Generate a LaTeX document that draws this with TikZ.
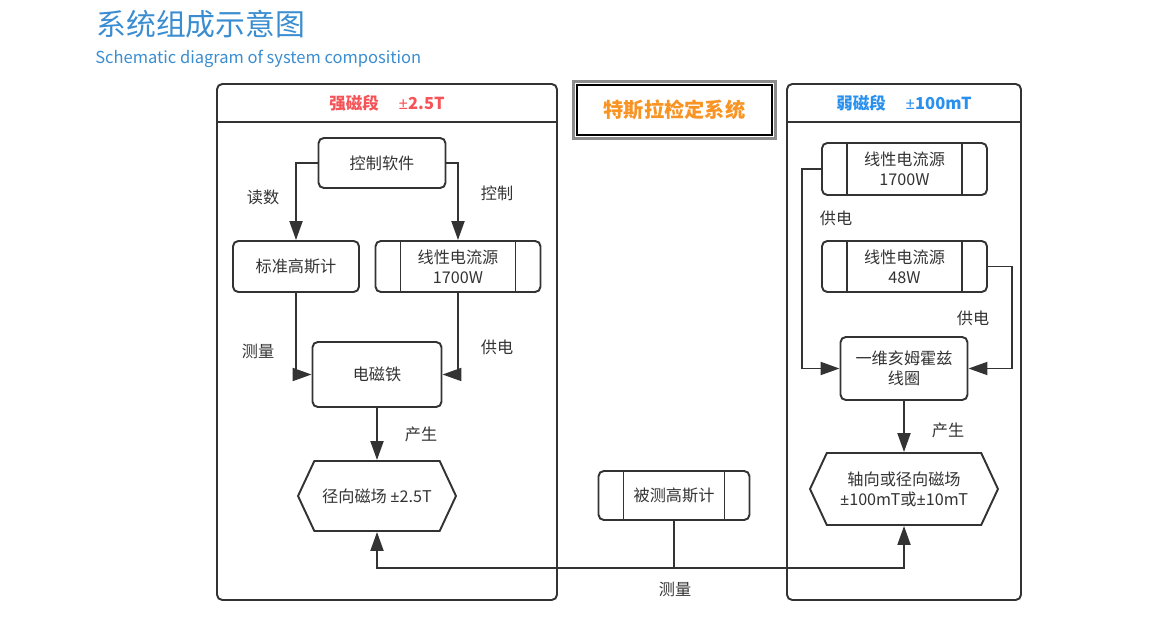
\documentclass[tikz,border=0pt]{standalone}
\usepackage{fontspec}
\setmainfont{Noto Sans CJK SC}
\newfontfamily\latinfont{Noto Sans}
\newcommand{\pmsign}{{\latinfont ±}}
\usetikzlibrary{arrows.meta, positioning, shapes.symbols, fit}
\definecolor{inkgray}{RGB}{51,51,51}
\definecolor{titleblue}{RGB}{58,141,208}
\definecolor{strongred}{RGB}{245,83,88}
\definecolor{weakblue}{RGB}{41,144,238}
\definecolor{sysorange}{RGB}{247,148,36}
\definecolor{framegray}{RGB}{140,140,140}

\begin{document}
\begin{tikzpicture}[
        x=0.02cm, y=-0.02cm,
        every node/.style={font=\fontsize{9.2pt}{11.4pt}\selectfont, text=inkgray},
        box/.style={rectangle, draw=inkgray, line width=1.1pt, rounded corners=3pt, align=center, inner sep=0pt},
        procbox/.style={box, path picture={
            \draw[inkgray, line width=1.1pt] ([xshift=0.5cm]path picture bounding box.north west) -- ([xshift=0.5cm]path picture bounding box.south west);
            \draw[inkgray, line width=1.1pt] ([xshift=-0.5cm]path picture bounding box.north east) -- ([xshift=-0.5cm]path picture bounding box.south east);}},
        fieldbox/.style={signal, signal to=west and east, signal pointer angle=130, draw=inkgray, line width=1.1pt, align=center, inner sep=0pt},
        panel/.style={draw=inkgray, line width=1.1pt, rounded corners=3pt},
        headtext/.style={font=\fontsize{9.4pt}{11pt}\selectfont\bfseries},
        arrow/.style={draw=inkgray, line width=1.1pt, -{Triangle[length=3.8mm, width=2.6mm]}},
        wire/.style={draw=inkgray, line width=1.1pt}
    ]
        \useasboundingbox (0,0) rectangle (1160,621);

        % title
        \node [anchor=west, inner sep=0pt, font=\fontsize{17pt}{20pt}\selectfont, text=titleblue] (title) at (96,24) {系统组成示意图};
        \node [anchor=west, inner sep=0pt, font=\fontsize{9.4pt}{12pt}\selectfont, text=titleblue] (subtitle) at (95,59) {Schematic diagram of system composition};

        % panels
        \draw [panel] (217,84) rectangle (557,600);
        \draw [panel] (217,122) -- (557,122);
        \draw [panel] (787,84) rectangle (1021,600);
        \draw [panel] (787,122) -- (1021,122);
        \node [headtext, text=strongred] (stronghead) at (387,103) {强磁段\hspace{1.2em}\pmsign2.5T};
        \node [headtext, text=weakblue]  (weakhead)   at (904,103) {弱磁段\hspace{1.2em}\pmsign100mT};

        % system name
        \node [rectangle, draw=black, line width=1pt, minimum width=3.9cm, minimum height=1cm,
               font=\fontsize{11.5pt}{13pt}\selectfont\bfseries, text=sysorange] (system) at (674.5,110) {特斯拉检定系统};
        \node [fit=(system), inner sep=1.5pt, draw=framegray, line width=1.6pt] (sysframe) {};

        % strong field
        \node [box, minimum width=2.54cm, minimum height=1cm]    (soft)     at (382,163)   {控制软件};
        \node [box, minimum width=2.52cm, minimum height=1.02cm] (stdgauss) at (296,266.5) {标准高斯计};
        \node [procbox, minimum width=3.3cm, minimum height=1.02cm] (psu)   at (458,266.5) {线性电流源\\1700W};
        \node [box, minimum width=2.58cm, minimum height=1.3cm]  (magnet)   at (377,374.5) {电磁铁};
        \node [fieldbox, minimum width=3.16cm, minimum height=1.4cm] (radial) at (377,496) {径向磁场 \pmsign2.5T};

        % weak field
        \node [procbox, minimum width=3.3cm, minimum height=1.04cm] (wpsu1) at (904.5,169)   {线性电流源\\1700W};
        \node [procbox, minimum width=3.3cm, minimum height=1.02cm] (wpsu2) at (904.5,266.5) {线性电流源\\48W};
        \node [box, minimum width=2.54cm, minimum height=1.26cm]   (coil)  at (904,368.5)   {一维亥姆霍兹\\线圈};
        \node [fieldbox, minimum width=3.76cm, minimum height=1.44cm] (axial) at (904,489) {轴向或径向磁场\\\pmsign100mT或\pmsign10mT};

        % device under test
        \node [procbox, minimum width=3.02cm, minimum height=0.98cm] (dut) at (674,495.5) {被测高斯计};

        % connectors
        \draw [arrow] (soft.west) -| (stdgauss);
        \draw [arrow] (soft.east) -| (psu);
        \draw [arrow] (stdgauss) |- (magnet);
        \draw [arrow] (psu) |- (magnet);
        \draw [arrow] (magnet) -- (radial);
        \draw [arrow] (wpsu1.west) -- ++(-19,0) |- (coil);
        \draw [arrow] (wpsu2.east) -- ++(24,0) |- (coil);
        \draw [arrow] (coil) -- (axial);
        \coordinate (bus) at (674,568);
        \draw [wire]  (dut) -- (bus);
        \draw [arrow] (bus) -| (radial);
        \draw [arrow] (bus) -| (axial);

        % connector labels
        \node (lblread)    at (263,197) {读数};
        \node (lblctrl)    at (497,193) {控制};
        \node (lblmeas)    at (258,351) {测量};
        \node (lblpower)   at (497,347) {供电};
        \node (lblmake)    at (421,434) {产生};
        \node (lblwpower1) at (836,218) {供电};
        \node (lblwpower2) at (973,318) {供电};
        \node (lblwmake)   at (948,430) {产生};
        \node (lbldut)     at (675,589) {测量};
\end{tikzpicture}
\end{document}
